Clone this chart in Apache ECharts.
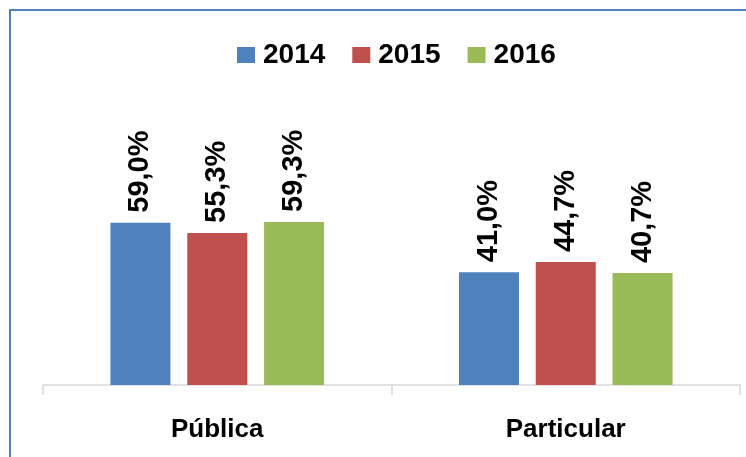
<!DOCTYPE html>
<html>
<head>
<meta charset="utf-8">
<script src="https://cdn.jsdelivr.net/npm/echarts@6/dist/echarts.min.js"></script>
<style>
  html, body { margin: 0; padding: 0; background: #fff; }
  #chart { width: 746px; height: 457px; }
</style>
</head>
<body>
<div id="chart"></div>
<script>
const categories = ["Pública", "Particular"];
const years = ["2014", "2015", "2016"];
const values2014 = [59.0, 41.0];
const values2015 = [55.3, 44.7];
const values2016 = [59.3, 40.7];
const colors = ["#4F81BD", "#C0504D", "#9BBB59"];

const font = "'Liberation Sans', Arial, sans-serif";
const chart = echarts.init(document.getElementById("chart"));

function makeSeries(name, data, color) {
  return {
    name: name,
    type: "bar",
    data: data,
    barWidth: 60,
    barGap: "28%",
    itemStyle: { color: color },
    label: {
      show: true,
      position: "top",
      rotate: 90,
      align: "left",
      verticalAlign: "middle",
      distance: 10,
      fontFamily: font,
      fontWeight: "bold",
      fontSize: 29,
      color: "#000",
      formatter: (p) => p.value.toFixed(1).replace(".", ",") + "%",
    },
  };
}

const option = {
  animation: false,
  graphic: [
    {
      type: "rect",
      shape: { x: 10, y: 10, width: 1200, height: 800 },
      style: { fill: "none", stroke: "#4F81BD", lineWidth: 2 },
    },
  ],
  legend: {
    top: 36,
    left: 232,
    itemWidth: 18,
    itemHeight: 16,
    itemGap: 27,
    icon: "rect",
    textStyle: { fontFamily: font, fontWeight: "bold", fontSize: 28, color: "#000", padding: [0, 0, 0, 3] },
    data: years,
  },
  grid: { left: 43, right: 6, top: 110, bottom: 72 },
  xAxis: {
    type: "category",
    data: categories,
    axisLine: { lineStyle: { color: "#D9D9D9", width: 1.5 } },
    axisTick: { show: true, length: 10, lineStyle: { color: "#D9D9D9", width: 1.5 } },
    axisLabel: { fontFamily: font, fontWeight: "bold", fontSize: 26, color: "#000", margin: 32 },
  },
  yAxis: { type: "value", min: 0, max: 100, show: false, splitLine: { show: false } },
  series: [
    makeSeries(years[0], values2014, colors[0]),
    makeSeries(years[1], values2015, colors[1]),
    makeSeries(years[2], values2016, colors[2]),
  ],
};
chart.setOption(option);
</script>
</body>
</html>
